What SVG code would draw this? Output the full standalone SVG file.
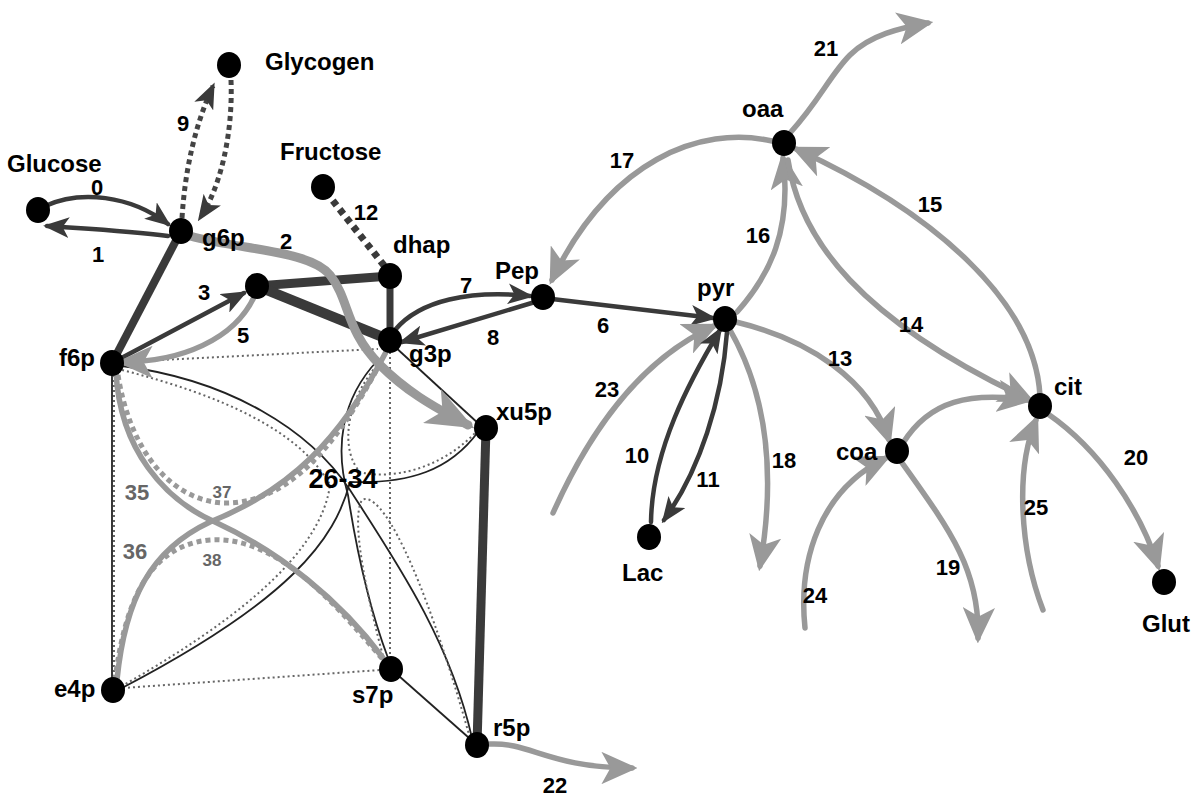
<svg xmlns="http://www.w3.org/2000/svg" width="1200" height="800" viewBox="0 0 1200 800">
<defs>
<style>
.lbl{font-family:"Liberation Sans",Arial,sans-serif;font-weight:bold;font-size:24px;fill:#000}
.num{font-family:"Liberation Sans",Arial,sans-serif;font-weight:bold;font-size:22px;fill:#000;text-anchor:middle}
.gnum{font-family:"Liberation Sans",Arial,sans-serif;font-weight:bold;font-size:22px;fill:#666;text-anchor:middle}
.gsm{font-family:"Liberation Sans",Arial,sans-serif;font-weight:bold;font-size:17px;fill:#666;text-anchor:middle}
.big{font-family:"Liberation Sans",Arial,sans-serif;font-weight:bold;font-size:27px;fill:#000;text-anchor:middle}
.node{fill:#000}
.d{fill:none;stroke:#3a3a3a;stroke-width:4.5;stroke-linecap:round}
.dk{fill:none;stroke:#3a3a3a;stroke-linecap:butt}
.dd{fill:none;stroke:#444;stroke-width:5;stroke-dasharray:5 4}
.g{fill:none;stroke:#999;stroke-width:5.5;stroke-linecap:round}
.gw{fill:none;stroke:#999;stroke-width:9;stroke-linecap:round}
.gd{fill:none;stroke:#999;stroke-width:5;stroke-dasharray:5 4}
.t{fill:none;stroke:#222;stroke-width:1.8}
.td{fill:none;stroke:#666;stroke-width:2;stroke-dasharray:2 3}
</style>
<marker id="ad" viewBox="0 0 20 16" refX="17" refY="8" markerWidth="26" markerHeight="20.8" markerUnits="userSpaceOnUse" orient="auto">
<path d="M0,0 L20,8 L0,16 L5,8 Z" fill="#3a3a3a"/>
</marker>
<marker id="ag" viewBox="0 0 20 18" refX="17" refY="9" markerWidth="36" markerHeight="32.4" markerUnits="userSpaceOnUse" orient="auto">
<path d="M0,0 L20,9 L0,18 L5,9 Z" fill="#999"/>
</marker>
<marker id="agb" viewBox="0 0 20 16" refX="17" refY="8" markerWidth="48" markerHeight="38.4" markerUnits="userSpaceOnUse" orient="auto">
<path d="M0,0 L20,8 L0,16 L5,8 Z" fill="#999"/>
</marker>
</defs>
<rect width="1200" height="800" fill="#fff"/>

<g id="connectors">
<!-- thin 26-34 bundle -->
<path class="t" d="M112,363 L112,690"/>
<path class="td" d="M114,365 L114,688"/>
<path class="td" d="M122,362 L378,349"/>
<path class="td" d="M123,688 L380,670"/>
<path class="t" d="M393,345 L480,425"/>
<path class="t" d="M477,745 L391,669"/>
<path class="td" d="M390,352 L390,658"/>
<path class="t" d="M122,366 C230,380 310,430 350,490 C395,560 450,640 472,738"/>
<path class="td" d="M122,370 C220,395 300,430 330,485 C320,560 220,630 122,686"/>
<path class="t" d="M478,432 C450,470 410,484 350,482 C335,540 290,600 122,688"/>
<path class="td" d="M380,362 C345,400 340,450 360,472 C390,480 440,470 476,432"/>
<path class="t" d="M378,360 C340,400 335,450 348,495 C358,560 370,610 388,658"/>
<path class="td" d="M384,660 C368,600 350,520 362,500 C380,490 420,560 470,738"/>
<!-- gray 35-38 -->
<path class="g" d="M116,372 C120,450 165,500 215,522 C280,552 340,600 383,658"/>
<path class="g" d="M117,680 C125,600 150,550 210,522 C290,490 340,440 386,352"/>
<path class="gd" d="M118,375 C130,450 170,500 223,503 C300,505 350,420 382,360"/>
<path class="gd" d="M115,680 C125,600 150,545 210,540 C280,535 340,610 385,662"/>
<!-- glycolysis -->
<path class="dk" stroke-width="8" d="M181,231 L112,363"/>
<path class="dk" stroke-width="9" d="M257,286 L390,276"/>
<path class="dk" stroke-width="10" d="M257,286 L390,340"/>
<path class="dk" stroke-width="7" d="M390,276 L390,340"/>
<path class="dk" stroke-width="9" d="M486,428 L477,745"/>
<path class="d" d="M45,206 C80,190 130,195 168,224" marker-end="url(#ad)"/>
<path class="d" d="M168,236 C130,231 90,229 47,226" marker-end="url(#ad)"/>
<path class="dd" d="M182,218 C185,170 195,125 213,86" marker-end="url(#ad)"/>
<path class="dd" d="M231,80 C233,130 222,185 200,218" marker-end="url(#ad)"/>
<path class="dk" stroke-width="7" stroke-dasharray="6 5" d="M326,192 L386,268"/>
<path class="d" d="M112,363 L244,293" marker-end="url(#ad)"/>
<path class="g" d="M255,295 C235,340 180,362 122,362" marker-end="url(#ag)"/>
<path class="gw" d="M190,236 C240,250 310,250 330,275 C350,300 345,330 380,365 C405,390 430,405 468,425" marker-end="url(#agb)"/>
<path class="d" d="M395,330 C420,300 470,290 530,296" marker-end="url(#ad)"/>
<path class="d" d="M535,302 L402,342" marker-end="url(#ad)"/>
<path class="d" d="M552,299 L713,318" marker-end="url(#ad)"/>
<path class="g" d="M490,744 C530,742 550,768 632,768" marker-end="url(#ag)"/>
<!-- TCA side -->
<path class="g" d="M772,141 C700,125 610,160 552,280" marker-end="url(#ag)"/>
<path class="g" d="M790,133 C820,100 830,75 850,55 C870,35 900,28 928,23" marker-end="url(#ag)"/>
<path class="g" d="M737,312 C770,275 792,230 783,158" marker-end="url(#ag)"/>
<path class="g" d="M1040,396 C1035,300 930,210 796,149" marker-end="url(#ag)"/>
<path class="g" d="M788,160 C800,240 860,320 1030,400" marker-end="url(#ag)"/>
<path class="g" d="M736,322 C810,340 870,380 889,440" marker-end="url(#ag)"/>
<path class="g" d="M903,443 C930,400 970,392 1028,400" marker-end="url(#ag)"/>
<path class="g" d="M1043,610 C1020,550 1015,470 1036,420" marker-end="url(#ag)"/>
<path class="g" d="M1048,414 C1100,450 1140,510 1158,566" marker-end="url(#ag)"/>
<path class="g" d="M900,460 C950,530 980,570 978,638" marker-end="url(#ag)"/>
<path class="g" d="M805,628 C798,560 820,490 886,458" marker-end="url(#ag)"/>
<path class="g" d="M553,513 C590,430 640,360 714,326" marker-end="url(#ag)"/>
<path class="g" d="M730,330 C770,400 775,480 760,566" marker-end="url(#ag)"/>
<path class="d" d="M651,522 C652,450 690,380 720,330" marker-end="url(#ad)"/>
<path class="d" d="M727,332 C722,400 700,470 664,520" marker-end="url(#ad)"/>
</g>

<g id="edge-labels">
<text class="num" x="97" y="195">0</text>
<text class="num" x="98" y="262">1</text>
<text class="num" x="183" y="131">9</text>
<text class="num" x="366" y="220">12</text>
<text class="num" x="286" y="249">2</text>
<text class="num" x="204" y="300">3</text>
<text class="num" x="243" y="343">5</text>
<text class="num" x="466" y="293">7</text>
<text class="num" x="493" y="345">8</text>
<text class="num" x="603" y="333">6</text>
<text class="num" x="622" y="168">17</text>
<text class="num" x="826" y="56">21</text>
<text class="num" x="758" y="243">16</text>
<text class="num" x="930" y="212">15</text>
<text class="num" x="911" y="332">14</text>
<text class="num" x="840" y="366">13</text>
<text class="num" x="607" y="397">23</text>
<text class="num" x="637" y="463">10</text>
<text class="num" x="708" y="487">11</text>
<text class="num" x="784" y="468">18</text>
<text class="num" x="1136" y="465">20</text>
<text class="num" x="1036" y="515">25</text>
<text class="num" x="948" y="575">19</text>
<text class="num" x="815" y="603">24</text>
<text class="num" x="555" y="793">22</text>
<text class="big" x="343" y="488">26-34</text>
<text class="gnum" x="137" y="500">35</text>
<text class="gsm" x="222" y="498">37</text>
<text class="gnum" x="135" y="559">36</text>
<text class="gsm" x="212" y="566">38</text>
</g>

<g id="n-glucose"><ellipse class="node" cx="38" cy="210" rx="12" ry="13"/><text class="lbl" x="7" y="172">Glucose</text></g>
<g id="n-glycogen"><ellipse class="node" cx="229" cy="65" rx="12" ry="13"/><text class="lbl" x="265" y="70">Glycogen</text></g>
<g id="n-fructose"><ellipse class="node" cx="323" cy="187" rx="12" ry="13"/><text class="lbl" x="280" y="160">Fructose</text></g>
<g id="n-g6p"><ellipse class="node" cx="181" cy="231" rx="12" ry="13"/><text class="lbl" x="202" y="246">g6p</text></g>
<g id="n-dhap"><ellipse class="node" cx="390" cy="276" rx="12" ry="13"/><text class="lbl" x="393" y="253">dhap</text></g>
<g id="n-fbp"><ellipse class="node" cx="257" cy="286" rx="12" ry="13"/></g>
<g id="n-pep"><ellipse class="node" cx="543" cy="297" rx="12" ry="13"/><text class="lbl" x="495" y="279">Pep</text></g>
<g id="n-g3p"><ellipse class="node" cx="390" cy="340" rx="12" ry="13"/><text class="lbl" x="409" y="362">g3p</text></g>
<g id="n-f6p"><ellipse class="node" cx="112" cy="363" rx="12" ry="13"/><text class="lbl" x="59" y="366">f6p</text></g>
<g id="n-xu5p"><ellipse class="node" cx="486" cy="428" rx="12" ry="13"/><text class="lbl" x="496" y="420">xu5p</text></g>
<g id="n-pyr"><ellipse class="node" cx="725" cy="319" rx="12" ry="13"/><text class="lbl" x="697" y="296">pyr</text></g>
<g id="n-oaa"><ellipse class="node" cx="784" cy="143" rx="12" ry="13"/><text class="lbl" x="742" y="117">oaa</text></g>
<g id="n-cit"><ellipse class="node" cx="1040" cy="406" rx="12" ry="13"/><text class="lbl" x="1054" y="395">cit</text></g>
<g id="n-coa"><ellipse class="node" cx="897" cy="451" rx="12" ry="13"/><text class="lbl" x="836" y="460">coa</text></g>
<g id="n-lac"><ellipse class="node" cx="649" cy="537" rx="12" ry="13"/><text class="lbl" x="622" y="581">Lac</text></g>
<g id="n-glut"><ellipse class="node" cx="1164" cy="582" rx="12" ry="13"/><text class="lbl" x="1142" y="632">Glut</text></g>
<g id="n-e4p"><ellipse class="node" cx="113" cy="690" rx="12" ry="13"/><text class="lbl" x="54" y="697">e4p</text></g>
<g id="n-s7p"><ellipse class="node" cx="391" cy="669" rx="12" ry="13"/><text class="lbl" x="352" y="703">s7p</text></g>
<g id="n-r5p"><ellipse class="node" cx="477" cy="745" rx="12" ry="13"/><text class="lbl" x="493" y="736">r5p</text></g>
</svg>
